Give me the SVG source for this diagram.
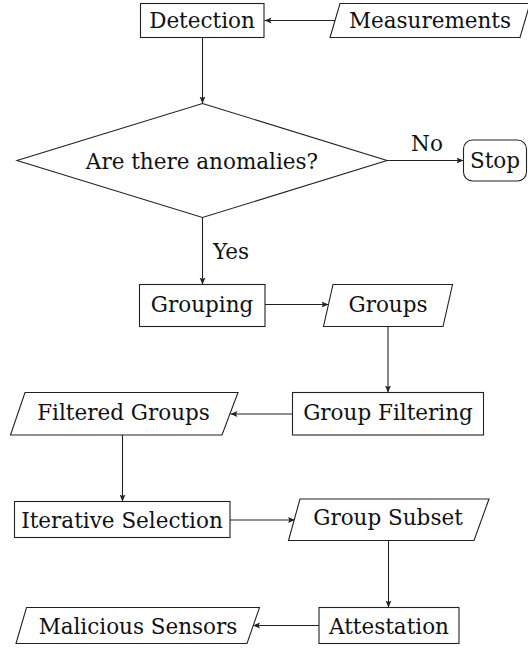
<svg xmlns="http://www.w3.org/2000/svg" width="528" height="648" viewBox="0 0 528 648">
<style>
.n{fill:#fff;stroke:#222;stroke-width:1.1}
.t{font-family:"DejaVu Serif","Liberation Serif",serif;font-size:21.5px;fill:#111;text-anchor:middle}
.c{fill:none;stroke:#222;stroke-width:1.1}
</style>
<defs>
<marker id="ah" markerUnits="userSpaceOnUse" markerWidth="8" markerHeight="8" viewBox="0 0 8 8" refX="7" refY="4" orient="auto">
<path d="M0,1 L7,4 L0,7 L1.5,4 Z" fill="#222"/>
</marker>
</defs>
<rect width="528" height="648" fill="#fff"/>
<g id="connectors">
<line class="c" x1="335" y1="20.5" x2="264.5" y2="20.5" marker-end="url(#ah)"/>
<line class="c" x1="202.5" y1="37.5" x2="202.5" y2="103.5" marker-end="url(#ah)"/>
<line class="c" x1="387" y1="160.5" x2="463.5" y2="160.5" marker-end="url(#ah)"/>
<line class="c" x1="202.5" y1="217.5" x2="202.5" y2="284.5" marker-end="url(#ah)"/>
<line class="c" x1="265" y1="304.5" x2="328.5" y2="304.5" marker-end="url(#ah)"/>
<line class="c" x1="388" y1="326.5" x2="388" y2="392.5" marker-end="url(#ah)"/>
<line class="c" x1="292.5" y1="414" x2="230.5" y2="414" marker-end="url(#ah)"/>
<line class="c" x1="122.5" y1="435" x2="122.5" y2="501.5" marker-end="url(#ah)"/>
<line class="c" x1="230" y1="520" x2="295" y2="520" marker-end="url(#ah)"/>
<line class="c" x1="388.5" y1="540.5" x2="388.5" y2="607.5" marker-end="url(#ah)"/>
<line class="c" x1="319" y1="625.5" x2="253" y2="625.5" marker-end="url(#ah)"/>
<text class="t" x="427" y="151">No</text>
<text class="t" x="231" y="259">Yes</text>
</g>
<g id="detection">
<rect class="n" x="140.5" y="3.5" width="123.5" height="34"/>
<text class="t" x="202" y="28">Detection</text>
</g>
<g id="measurements">
<polygon class="n" points="340,3.5 530,3.5 520,37.5 330,37.5"/>
<text class="t" x="430" y="28">Measurements</text>
</g>
<g id="decision">
<polygon class="n" points="202.5,103.5 387,160.5 202.5,217.5 17,160.5"/>
<text class="t" x="202" y="169">Are there anomalies?</text>
</g>
<g id="stop">
<rect class="n" x="463.5" y="140" width="63" height="41" rx="9"/>
<text class="t" x="495" y="168">Stop</text>
</g>
<g id="grouping">
<rect class="n" x="139.5" y="284.5" width="125.5" height="42"/>
<text class="t" x="202" y="311.5">Grouping</text>
</g>
<g id="groups">
<polygon class="n" points="333,284.5 452.5,284.5 443,326.5 323.5,326.5"/>
<text class="t" x="388" y="311.5">Groups</text>
</g>
<g id="group-filtering">
<rect class="n" x="292.5" y="392.5" width="191" height="42.5"/>
<text class="t" x="388" y="420">Group Filtering</text>
</g>
<g id="filtered-groups">
<polygon class="n" points="25,392.5 238,392.5 222,435 10.5,435"/>
<text class="t" x="123.5" y="420">Filtered Groups</text>
</g>
<g id="iterative-selection">
<rect class="n" x="14.5" y="501.5" width="215.5" height="36"/>
<text class="t" x="122" y="528">Iterative Selection</text>
</g>
<g id="group-subset">
<polygon class="n" points="300,499 489,499 474,540.5 288.5,540.5"/>
<text class="t" x="388" y="525">Group Subset</text>
</g>
<g id="attestation">
<rect class="n" x="319" y="607.5" width="140" height="36"/>
<text class="t" x="389" y="634">Attestation</text>
</g>
<g id="malicious-sensors">
<polygon class="n" points="26.5,607.5 259.5,607.5 247,643.5 16,643.5"/>
<text class="t" x="138" y="634">Malicious Sensors</text>
</g>
</svg>
